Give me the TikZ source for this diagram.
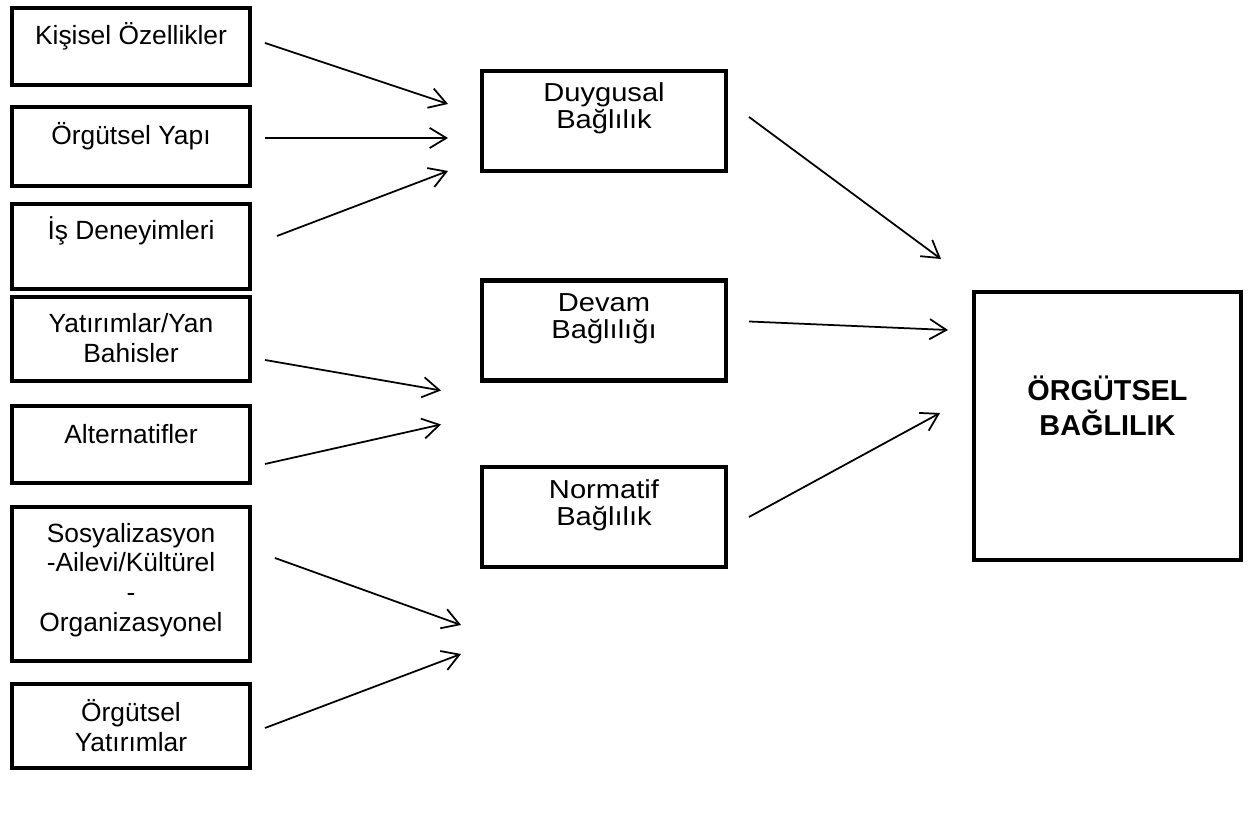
\documentclass[tikz,border=0pt]{standalone}
\usepackage{fontspec}
\setmainfont{Liberation Sans}
\newfontfamily\midfont[FakeStretch=1.12]{Liberation Sans}
\usetikzlibrary{arrows.meta}

\begin{document}
\begin{tikzpicture}[x=0.02cm,y=-0.02cm]
    \tikzstyle{box}=[rectangle,draw=black,line width=2.3pt,inner sep=0pt]
    \tikzstyle{leftbox}=[box,minimum width=4.76cm]
    \tikzstyle{midbox}=[box,minimum width=4.88cm,minimum height=2cm]
    \tikzstyle{txt}=[align=center,inner sep=0pt,font=\fontsize{15}{17}\selectfont]
    \tikzstyle{midtxt}=[align=center,inner sep=0pt,font=\midfont\fontsize{14.8}{15.4}\selectfont]
    \tikzstyle{arr}=[line width=1pt,-{Straight Barb[length=9.5pt,width=11.5pt]}]
    \useasboundingbox (0,0) rectangle (1254,817);
    % left column
    \node (kisisel)[leftbox,minimum height=1.54cm] at (131,46.5) {};
    \node (yapi)[leftbox,minimum height=1.58cm] at (131,146.5) {};
    \node (deneyim)[leftbox,minimum height=1.7cm] at (131,246.5) {};
    \node (yatirim)[leftbox,minimum height=1.68cm] at (131,339) {};
    \node (alternatif)[leftbox,minimum height=1.54cm] at (131,444.5) {};
    \node (sosyal)[leftbox,minimum height=3.08cm] at (131,584) {};
    \node (oryatirim)[leftbox,minimum height=1.68cm] at (131,726) {};
    \node (kisisel-t)[txt] at ([shift={(0,30)}]kisisel.north) {Kişisel Özellikler};
    \node (yapi-t)[txt] at ([shift={(0,31)}]yapi.north) {Örgütsel Yapı};
    \node (deneyim-t)[txt] at ([shift={(0,29)}]deneyim.north) {İş Deneyimleri};
    \node (yatirim-t)[txt] at ([shift={(0,43)}]yatirim.north) {Yatırımlar/Yan\\Bahisler};
    \node (alternatif-t)[txt] at ([shift={(0,30)}]alternatif.north) {Alternatifler};
    \node (sosyal-t)[txt] at ([shift={(0,75)}]sosyal.north) {Sosyalizasyon\\-Ailevi/Kültürel\\-\\Organizasyonel};
    \node (oryatirim-t)[txt] at ([shift={(0,44)}]oryatirim.north) {Örgütsel\\Yatırımlar};
    % middle column
    \node (duygusal)[midbox] at (604,121) {};
    \node (devam)[midbox] at (604,330.5) {};
    \node (normatif)[midbox] at (604,517) {};
    \node (duygusal-t)[midtxt] at ([shift={(0,39)}]duygusal.north) {Duygusal\\Bağlılık};
    \node (devam-t)[midtxt] at ([shift={(0,40)}]devam.north) {Devam\\Bağlılığı};
    \node (normatif-t)[midtxt] at ([shift={(0,40)}]normatif.north) {Normatif\\Bağlılık};
    % right
    \node (orgbag)[box,minimum width=5.34cm,minimum height=5.36cm] at (1107.5,426) {};
    \node (orgbag-t)[align=center,inner sep=0pt,font=\fontsize{16.4}{19.9}\selectfont\bfseries] at ([shift={(0,115.5)}]orgbag.north) {ÖRGÜTSEL\\BAĞLILIK};
    \draw[arr] ([shift={(13,37)}]kisisel.north east) -- ([shift={(-32,35)}]duygusal.north west);
    \draw[arr] ([shift={(13,33)}]yapi.north east) -- ([shift={(-32,69)}]duygusal.north west);
    \draw[arr] ([shift={(25,34)}]deneyim.north east) -- ([shift={(-32,102)}]duygusal.north west);
    \draw[arr] ([shift={(13,65)}]yatirim.north east) -- ([shift={(-39,112)}]devam.north west);
    \draw[arr] ([shift={(13,60)}]alternatif.north east) -- ([shift={(-39,146)}]devam.north west);
    \draw[arr] ([shift={(23,53)}]sosyal.north east) -- ([shift={(-19,160)}]normatif.north west);
    \draw[arr] ([shift={(13,46)}]oryatirim.north east) -- ([shift={(-19,189)}]normatif.north west);
    \draw[arr] ([shift={(21,48)}]duygusal.north east) -- ([shift={(-31,-31)}]orgbag.north west);
    \draw[arr] ([shift={(21,43)}]devam.north east) -- ([shift={(-24,40)}]orgbag.north west);
    \draw[arr] ([shift={(21,52)}]normatif.north east) -- ([shift={(-32,123)}]orgbag.north west);
\end{tikzpicture}
\end{document}
